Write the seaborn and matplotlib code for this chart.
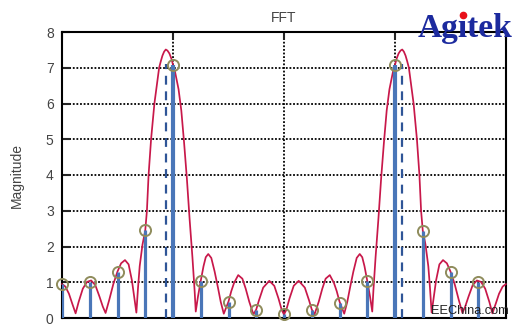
import matplotlib
matplotlib.use("Agg")
import matplotlib.pyplot as plt
from matplotlib.lines import Line2D
import seaborn as sns
import pandas as pd

# FFT samples (bin index, magnitude)
fft_bins = list(range(16))
fft_mag = [0.95, 1.00, 1.30, 2.45, 7.08, 1.04, 0.44, 0.22,
           0.11, 0.22, 0.43, 1.03, 7.08, 2.44, 1.28, 1.00]

# continuous spectrum (red curve), sampled by eye
dtft_freq = [0.00, 0.12, 0.25, 0.37, 0.49, 0.60, 0.75, 0.90, 1.05, 1.20, 1.35, 1.47, 1.57,
             1.70, 1.85, 2.00, 2.13, 2.27, 2.40, 2.52, 2.60, 2.68,
             2.74, 2.80, 2.90, 3.00, 3.06, 3.12, 3.21, 3.33, 3.50, 3.56, 3.62, 3.68, 3.74,
             3.80, 3.87, 3.94, 4.00, 4.07, 4.20, 4.30, 4.40, 4.50, 4.60, 4.70, 4.78, 4.82,
             4.90, 5.00, 5.10, 5.18, 5.27, 5.38, 5.50, 5.62, 5.72, 5.83,
             5.92, 6.00, 6.10, 6.20, 6.35, 6.50, 6.62, 6.75, 6.90,
             7.00, 7.10, 7.25, 7.47, 7.65, 7.80, 7.92, 8.00,
             8.08, 8.20, 8.35, 8.53, 8.75, 8.90, 9.00, 9.10,
             9.25, 9.38, 9.50, 9.65, 9.80, 9.90, 10.00, 10.08, 10.17,
             10.28, 10.38, 10.50, 10.62, 10.73, 10.82, 10.90, 11.00, 11.10, 11.18,
             11.22, 11.30, 11.40, 11.50, 11.60, 11.70, 11.80, 11.93, 12.00, 12.06, 12.13, 12.20, 12.26,
             12.32, 12.38, 12.44, 12.50, 12.67, 12.79, 12.88, 12.94, 13.00, 13.10, 13.20, 13.26, 13.32,
             13.40, 13.48, 13.60, 13.73, 13.87, 14.00, 14.15, 14.30, 14.43,
             14.53, 14.65, 14.80, 14.95, 15.10, 15.25, 15.40, 15.51,
             15.63, 15.75, 15.88, 16.00]
dtft_mag = [0.95, 0.88, 0.68, 0.40, 0.13, 0.45, 0.82, 1.01, 1.05, 0.92, 0.60, 0.32, 0.14,
            0.50, 0.95, 1.30, 1.53, 1.62, 1.50, 1.05, 0.60, 0.15,
            0.85, 1.45, 2.05, 2.45, 3.00, 4.00, 5.00, 6.00, 7.00, 7.18, 7.34, 7.45, 7.51,
            7.48, 7.40, 7.26, 7.08, 6.90, 6.40, 5.80, 4.90, 3.90, 2.75, 1.70, 0.75, 0.18,
            0.60, 1.04, 1.45, 1.70, 1.79, 1.68, 1.30, 0.85, 0.45, 0.12,
            0.30, 0.46, 0.75, 0.98, 1.20, 1.10, 0.82, 0.45, 0.10,
            0.24, 0.50, 0.85, 1.04, 0.90, 0.55, 0.22, 0.10,
            0.22, 0.55, 0.90, 1.04, 0.85, 0.50, 0.24, 0.10,
            0.45, 0.82, 1.10, 1.20, 0.98, 0.75, 0.46, 0.30, 0.12,
            0.45, 0.85, 1.30, 1.68, 1.79, 1.70, 1.45, 1.04, 0.60, 0.18,
            0.75, 1.70, 2.75, 3.90, 4.90, 5.80, 6.40, 6.90, 7.08, 7.26, 7.40, 7.48, 7.51,
            7.45, 7.34, 7.18, 7.00, 6.00, 5.00, 4.00, 3.00, 2.45, 2.05, 1.45, 0.85, 0.15,
            0.60, 1.05, 1.50, 1.62, 1.53, 1.30, 0.95, 0.50, 0.14,
            0.32, 0.60, 0.92, 1.05, 1.01, 0.82, 0.45, 0.13,
            0.40, 0.68, 0.88, 0.95]

# true tone frequencies (dashed markers)
tone_freq = [3.74, 12.26]
tone_mag = [7.1, 7.1]

y_ticks = list(range(9))

sns.set_theme(style="white")
plt.rcParams['font.family'] = ['Liberation Sans', 'DejaVu Sans']

fig = plt.figure(figsize=(5.16, 3.27), dpi=100)
ax = fig.add_axes([62 / 516, 9 / 327, 444 / 516, 286 / 327])

curve = pd.DataFrame({"freq": dtft_freq, "mag": dtft_mag})
sns.lineplot(data=curve, x="freq", y="mag", ax=ax, color="#c8184a",
             linewidth=1.25, zorder=3, clip_on=False)

# stems
widths = [3.0 if m > 5 else 2.3 for m in fft_mag]
ax.vlines(fft_bins, 0, fft_mag, colors="#4a76b8", linewidths=widths, zorder=4)
ax.vlines(tone_freq, 0, tone_mag, colors="#2f5597", linewidths=1.6,
          linestyles=(0, (4, 3)), zorder=5)
ax.plot(fft_bins, fft_mag, linestyle="none", marker="o", markersize=8,
        markerfacecolor="none", markeredgecolor="#8f8c5c", markeredgewidth=1.4,
        zorder=6, clip_on=False)

ax.set_xlim(0, 16)
ax.set_ylim(0, 8)
ax.set_xticks([0, 4, 8, 12, 16])
ax.set_xticklabels([])
ax.set_yticks(y_ticks)
ax.tick_params(axis="y", direction="in", length=6, width=1.5, labelsize=10,
               labelcolor="#444444", pad=6, left=True)
ax.tick_params(axis="x", direction="in", length=6, width=1.5, bottom=True, top=True)
ax.grid(True, color="black", linestyle=(0, (1, 1)), linewidth=1.3)
for s in ax.spines.values():
    s.set_color("black")
    s.set_linewidth(1.5)

ax.set_xlabel("")
ax.set_ylabel("Magnitude", fontsize=10, color="#444444", labelpad=16)
ax.set_title("FFT", fontsize=10, color="#444444", pad=7)

# watermarks
fig.text(465 / 516, 1 - 29 / 327, "Ag\u0131tek", ha="center", va="center",
         fontsize=24, fontweight="bold", color="#1c2a9e",
         family=["Liberation Serif", "DejaVu Serif"])
fig.add_artist(Line2D([463 / 516], [1 - 15 / 327], marker="o", markersize=4.5,
                      color="#e8101a", transform=fig.transFigure))
fig.text(470 / 516, 1 - 311 / 327, "EEChina.com", ha="center", va="center",
         fontsize=9.2, color="#222222")

fig.savefig("out.png", dpi=100)
